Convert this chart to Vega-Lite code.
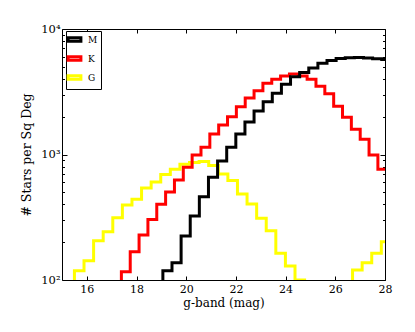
{
  "$schema": "https://vega.github.io/schema/vega-lite/v6.json",
  "width": 323,
  "height": 251,
  "autosize": {"type": "none"},
  "padding": {"left": 62, "top": 29, "right": 30, "bottom": 52},
  "background": "white",
  "config": {
    "view": {"stroke": "black", "strokeWidth": 1},
    "font": "DejaVu Serif",
    "axis": {"grid": false, "domain": false, "tickColor": "black", "labelColor": "black", "titleColor": "black", "titleFontWeight": "normal", "labelFont": "DejaVu Serif", "titleFont": "DejaVu Serif"}
  },
  "data": {"values": [
    {"band": "G", "g": 15.114, "n": 50},
    {"band": "G", "g": 15.5, "n": 118.6},
    {"band": "G", "g": 15.886, "n": 142.5},
    {"band": "G", "g": 16.272, "n": 205.7},
    {"band": "G", "g": 16.658, "n": 242.6},
    {"band": "G", "g": 17.044, "n": 313.6},
    {"band": "G", "g": 17.43, "n": 396},
    {"band": "G", "g": 17.816, "n": 439.5},
    {"band": "G", "g": 18.202, "n": 541},
    {"band": "G", "g": 18.588, "n": 603.8},
    {"band": "G", "g": 18.974, "n": 692.9},
    {"band": "G", "g": 19.36, "n": 762.3},
    {"band": "G", "g": 19.746, "n": 835.5},
    {"band": "G", "g": 20.132, "n": 863.7},
    {"band": "G", "g": 20.518, "n": 879.6},
    {"band": "G", "g": 20.904, "n": 817.4},
    {"band": "G", "g": 21.29, "n": 699.3},
    {"band": "G", "g": 21.676, "n": 620.6},
    {"band": "G", "g": 22.062, "n": 484.6},
    {"band": "G", "g": 22.448, "n": 403.3},
    {"band": "G", "g": 22.834, "n": 310.2},
    {"band": "G", "g": 23.22, "n": 247.1},
    {"band": "G", "g": 23.606, "n": 163.2},
    {"band": "G", "g": 23.992, "n": 129.3},
    {"band": "G", "g": 24.378, "n": 100},
    {"band": "G", "g": 24.764, "n": 50},
    {"band": "G", "g": 26.694, "n": 120.2},
    {"band": "G", "g": 27.08, "n": 137.3},
    {"band": "G", "g": 27.466, "n": 163.2},
    {"band": "G", "g": 27.852, "n": 202},
    {"band": "G", "g": 28.238, "n": 202},
    {"band": "K", "g": 17.034, "n": 50},
    {"band": "K", "g": 17.39, "n": 116.5},
    {"band": "K", "g": 17.746, "n": 168.1},
    {"band": "K", "g": 18.102, "n": 228.4},
    {"band": "K", "g": 18.458, "n": 303.5},
    {"band": "K", "g": 18.814, "n": 401.1},
    {"band": "K", "g": 19.17, "n": 502.8},
    {"band": "K", "g": 19.526, "n": 626.3},
    {"band": "K", "g": 19.882, "n": 790.7},
    {"band": "K", "g": 20.238, "n": 990.8},
    {"band": "K", "g": 20.594, "n": 1141},
    {"band": "K", "g": 20.95, "n": 1456},
    {"band": "K", "g": 21.306, "n": 1718},
    {"band": "K", "g": 21.662, "n": 2001},
    {"band": "K", "g": 22.018, "n": 2404},
    {"band": "K", "g": 22.374, "n": 2819},
    {"band": "K", "g": 22.73, "n": 3218},
    {"band": "K", "g": 23.086, "n": 3693},
    {"band": "K", "g": 23.442, "n": 3974},
    {"band": "K", "g": 23.798, "n": 4222},
    {"band": "K", "g": 24.154, "n": 4380},
    {"band": "K", "g": 24.51, "n": 4222},
    {"band": "K", "g": 24.866, "n": 3974},
    {"band": "K", "g": 25.222, "n": 3495},
    {"band": "K", "g": 25.578, "n": 3051},
    {"band": "K", "g": 25.934, "n": 2422},
    {"band": "K", "g": 26.29, "n": 1979},
    {"band": "K", "g": 26.646, "n": 1588},
    {"band": "K", "g": 27.002, "n": 1321},
    {"band": "K", "g": 27.358, "n": 990.8},
    {"band": "K", "g": 27.714, "n": 762.3},
    {"band": "K", "g": 28.07, "n": 762.3},
    {"band": "M", "g": 18.693, "n": 50},
    {"band": "M", "g": 19.06, "n": 118.6},
    {"band": "M", "g": 19.427, "n": 137.3},
    {"band": "M", "g": 19.794, "n": 224.2},
    {"band": "M", "g": 20.161, "n": 323.6},
    {"band": "M", "g": 20.528, "n": 461.1},
    {"band": "M", "g": 20.895, "n": 658.2},
    {"band": "M", "g": 21.262, "n": 887.7},
    {"band": "M", "g": 21.629, "n": 1141},
    {"band": "M", "g": 21.996, "n": 1456},
    {"band": "M", "g": 22.363, "n": 1816},
    {"band": "M", "g": 22.73, "n": 2222},
    {"band": "M", "g": 23.097, "n": 2635},
    {"band": "M", "g": 23.464, "n": 3073},
    {"band": "M", "g": 23.831, "n": 3627},
    {"band": "M", "g": 24.198, "n": 4168},
    {"band": "M", "g": 24.565, "n": 4502},
    {"band": "M", "g": 24.932, "n": 4890},
    {"band": "M", "g": 25.299, "n": 5330},
    {"band": "M", "g": 25.666, "n": 5611},
    {"band": "M", "g": 26.033, "n": 5820},
    {"band": "M", "g": 26.4, "n": 5896},
    {"band": "M", "g": 26.767, "n": 5929},
    {"band": "M", "g": 27.134, "n": 5874},
    {"band": "M", "g": 27.501, "n": 5799},
    {"band": "M", "g": 27.868, "n": 5715},
    {"band": "M", "g": 28.235, "n": 5715}
  ]},
  "layer": [
    {
      "mark": {"type": "line", "interpolate": "step-after", "strokeWidth": 3, "clip": true, "strokeJoin": "miter", "strokeCap": "butt"},
      "encoding": {
        "x": {"field": "g", "type": "quantitative", "scale": {"domain": [15, 28], "nice": false, "zero": false},
          "axis": {"values": [16, 18, 20, 22, 24, 26, 28], "format": "d", "tickSize": -4, "labelPadding": 7, "labelFontSize": 11, "labelFlush": false, "title": "g-band (mag)", "titleFontSize": 12, "titlePadding": 3}},
        "y": {"field": "n", "type": "quantitative", "scale": {"type": "log", "domain": [100, 10000], "nice": false},
          "axis": {"values": [100, 200, 300, 400, 500, 600, 700, 800, 900, 1000, 2000, 3000, 4000, 5000, 6000, 7000, 8000, 9000, 10000],
            "labelExpr": "datum.value == 100 ? '10²' : datum.value == 1000 ? '10³' : datum.value == 10000 ? '10⁴' : ''",
            "tickSize": {"condition": {"test": "datum.value == 100 || datum.value == 1000 || datum.value == 10000", "value": -5}, "value": -2.5},
            "labelPadding": 7, "labelFontSize": 11.5, "title": "# Stars per Sq Deg", "titleFontSize": 12.5, "titlePadding": 7}},
        "color": {"field": "band", "type": "nominal", "scale": {"domain": ["M", "K", "G"], "range": ["#000000", "#ff0000", "#ffff00"]},
          "legend": {"title": null, "orient": "none", "legendX": 4, "legendY": 2, "strokeColor": "black", "fillColor": "white", "padding": 3, "cornerRadius": 0,
            "symbolType": "M-1.6,-0.45L1.6,-0.45L1.6,0.45L-1.6,0.45Z", "symbolSize": 64, "symbolStrokeWidth": 3, "symbolFillColor": "transparent",
            "labelFont": "DejaVu Serif", "labelFontSize": 9, "labelColor": "black", "labelOffset": 8, "rowPadding": 2}}
      }
    },
    {
      "mark": {"type": "point", "opacity": 0},
      "encoding": {
        "x": {"field": "g", "type": "quantitative", "axis": {"orient": "top", "values": [16, 18, 20, 22, 24, 26, 28], "tickSize": -4, "labels": false, "title": null}},
        "y": {"field": "n", "type": "quantitative", "scale": {"type": "log"},
          "axis": {"orient": "right", "values": [100, 200, 300, 400, 500, 600, 700, 800, 900, 1000, 2000, 3000, 4000, 5000, 6000, 7000, 8000, 9000, 10000], "labels": false, "title": null,
            "tickSize": {"condition": {"test": "datum.value == 100 || datum.value == 1000 || datum.value == 10000", "value": -5}, "value": -2.5}}}
      }
    }
  ],
  "resolve": {"axis": {"x": "independent", "y": "independent"}}
}
